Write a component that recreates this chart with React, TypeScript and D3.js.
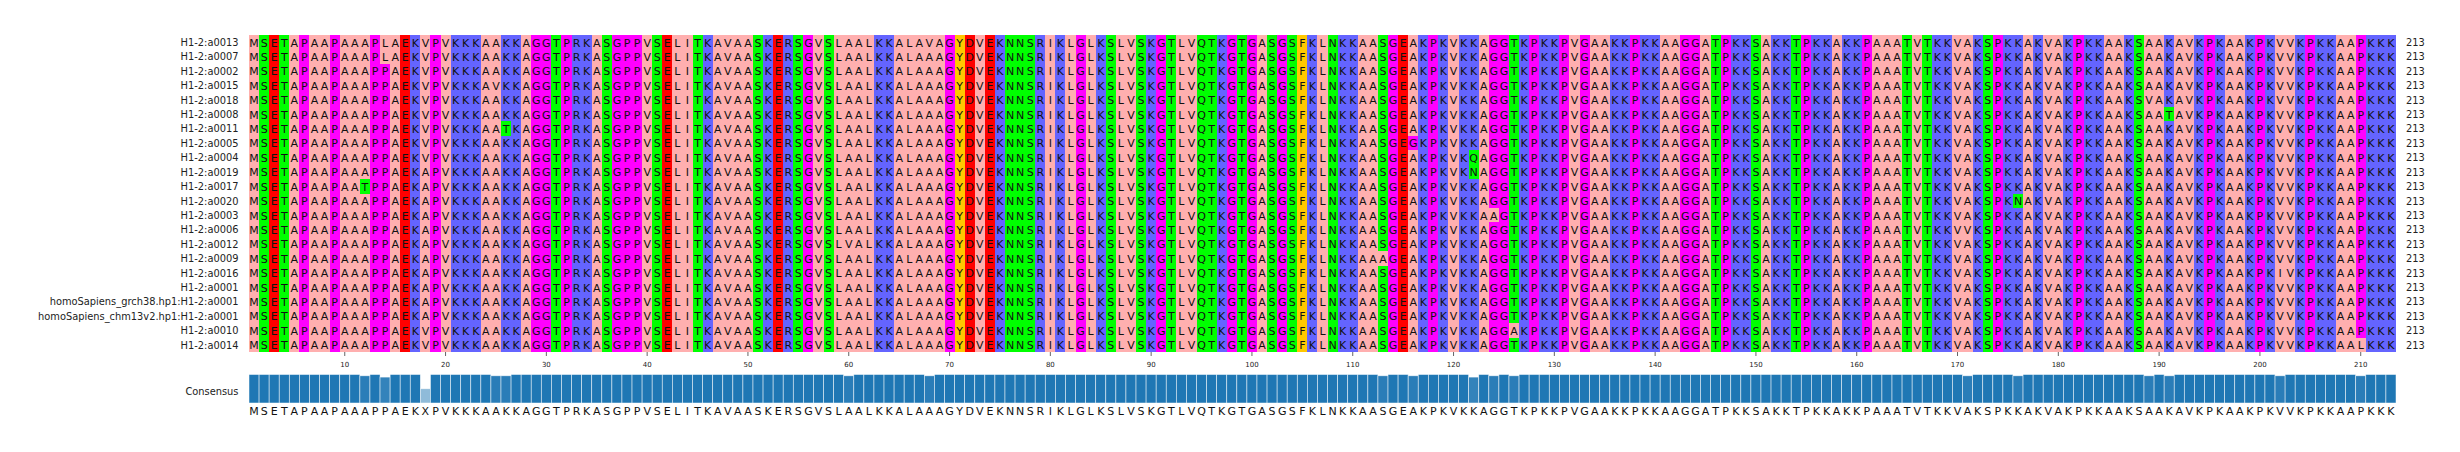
import * as d3 from "d3";

const rowLabels = [
    "H1-2:a0013", "H1-2:a0007", "H1-2:a0002", "H1-2:a0015", "H1-2:a0018", "H1-2:a0008",
    "H1-2:a0011", "H1-2:a0005", "H1-2:a0004", "H1-2:a0019", "H1-2:a0017", "H1-2:a0020",
    "H1-2:a0003", "H1-2:a0006", "H1-2:a0012", "H1-2:a0009", "H1-2:a0016", "H1-2:a0001",
    "homoSapiens_grch38.hp1:H1-2:a0001", "homoSapiens_chm13v2.hp1:H1-2:a0001",
    "H1-2:a0010", "H1-2:a0014",
];

// sequence most rows share, X at 18 is where V and A split evenly
const consensusSeq =
    "MSETAPAAPAAAPPAEKXPVKKKAAKKAGGTPRKASGPPVSELITKAVAASKERSGVSLAALKKALAAAGYDVEKNNSRI" +
    "KLGLKSLVSKGTLVQTKGTGASGSFKLNKKAASGEAKPKVKKAGGTKPKKPVGAAKKPKKAAGGATPKKSAKKTPKKAKK" +
    "PAAATVTKKVAKSPKKAKVAKPKKAAKSAAKAVKPKAAKPKVVKPKKAAPKKK";

// rows carrying V at position 18, the others carry A
const valineRows = ["H1-2:a0013", "H1-2:a0007", "H1-2:a0002", "H1-2:a0015", "H1-2:a0018", "H1-2:a0008", "H1-2:a0011", "H1-2:a0005", "H1-2:a0004", "H1-2:a0010", "H1-2:a0014"];

// [row, 1-based position, residue]
const substitutions: [string, number, string][] = [
    ["H1-2:a0013", 14, "L"],
    ["H1-2:a0013", 68, "V"],
    ["H1-2:a0007", 14, "L"],
    ["H1-2:a0015", 25, "V"],
    ["H1-2:a0018", 189, "V"],
    ["H1-2:a0008", 191, "T"],
    ["H1-2:a0011", 26, "T"],
    ["H1-2:a0005", 116, "G"],
    ["H1-2:a0004", 122, "Q"],
    ["H1-2:a0019", 122, "N"],
    ["H1-2:a0017", 12, "T"],
    ["H1-2:a0020", 176, "N"],
    ["H1-2:a0003", 124, "A"],
    ["H1-2:a0006", 171, "V"],
    ["H1-2:a0012", 60, "V"],
    ["H1-2:a0009", 113, "A"],
    ["H1-2:a0016", 202, "I"],
    ["H1-2:a0010", 126, "A"],
    ["H1-2:a0014", 210, "L"],
];

const rowLengths = rowLabels.map(() => 213);
const tickPositions = [10, 20, 30, 40, 50, 60, 70, 80, 90, 100, 110, 120, 130, 140, 150, 160, 170, 180, 190, 200, 210];

const residueColors: Record<string, string> = {
    A: "#ffafaf", I: "#ffafaf", L: "#ffafaf", M: "#ffafaf", V: "#ffafaf",
    F: "#ffc800", Y: "#ffc800",
    K: "#6464ff", R: "#6464ff",
    D: "#ff0000", E: "#ff0000",
    N: "#00ff00", Q: "#00ff00", S: "#00ff00", T: "#00ff00",
    G: "#ff00ff", P: "#ff00ff",
};

const sequences = rowLabels.map((label) => {
    const residues = consensusSeq.split("");
    residues[17] = valineRows.includes(label) ? "V" : "A";
    substitutions
        .filter((s) => s[0] === label)
        .forEach((s) => {
            residues[s[1] - 1] = s[2];
        });
    return residues;
});

const positions = d3.range(1, consensusSeq.length + 1);

// share of rows agreeing with the most common residue in each column
const conservation = positions.map((pos) => {
    const counts = d3.rollup(sequences, (v) => v.length, (s) => s[pos - 1]);
    return (d3.max(counts.values()) ?? 0) / sequences.length;
});

export default function App() {
    const width = 2460;
    const height = 452;
    const fontFamily = "'DejaVu Sans', sans-serif";

    const xScale = d3.scaleBand<number>().domain(positions).range([249, 2396]);
    const yScale = d3.scaleBand<string>().domain(rowLabels).range([35, 352]);
    const barScale = d3.scaleLinear().domain([0, 1]).range([403, 374.5]);

    const cell = xScale.bandwidth();
    const center = (pos: number) => (xScale(pos) ?? 0) + cell / 2;

    return (
        <svg
            width={width}
            height={height}
            viewBox={`0 0 ${width} ${height}`}
            style={{ position: "absolute", left: 0, top: 0, background: "#fff" }}
            fontFamily={fontFamily}
        >
            {/* residue cells */}
            <g shapeRendering="crispEdges">
                {sequences.map((residues, r) =>
                    residues.map((aa, i) => (
                        <rect
                            key={`${r}-${i}`}
                            x={xScale(i + 1)}
                            y={yScale(rowLabels[r])}
                            width={cell}
                            height={yScale.bandwidth()}
                            fill={residueColors[aa] ?? "#fff"}
                        />
                    ))
                )}
            </g>

            {/* residue letters */}
            <g fontSize="11" textAnchor="middle" fill="#111">
                {sequences.map((residues, r) =>
                    residues.map((aa, i) => (
                        <text
                            key={`${r}-${i}`}
                            x={center(i + 1)}
                            y={(yScale(rowLabels[r]) ?? 0) + yScale.bandwidth() / 2 + 4.4}
                        >
                            {aa}
                        </text>
                    ))
                )}
            </g>

            {/* row labels and lengths */}
            <g fontSize="9.85" fill="#222">
                {rowLabels.map((label, r) => (
                    <g key={label}>
                        <text
                            x={238.5}
                            y={(yScale(label) ?? 0) + yScale.bandwidth() / 2 + 3.8}
                            textAnchor="end"
                        >
                            {label}
                        </text>
                        <text
                            x={2406}
                            y={(yScale(label) ?? 0) + yScale.bandwidth() / 2 + 3.8}
                        >
                            {rowLengths[r]}
                        </text>
                    </g>
                ))}
                <text x={238.5} y={394.5} textAnchor="end">
                    Consensus
                </text>
            </g>

            {/* position ticks */}
            <g fontSize="7" fill="#222" textAnchor="middle">
                {tickPositions.map((tick) => (
                    <g key={tick}>
                        <line
                            x1={center(tick)}
                            x2={center(tick)}
                            y1={352}
                            y2={356}
                            stroke="#222"
                            strokeWidth={0.7}
                        />
                        <text x={center(tick)} y={366.5}>
                            {tick}
                        </text>
                    </g>
                ))}
            </g>

            {/* consensus bars */}
            <g>
                {positions.map((pos, i) => (
                    <rect
                        key={pos}
                        x={xScale(pos)}
                        y={barScale(conservation[i])}
                        width={cell}
                        height={barScale(0) - barScale(conservation[i])}
                        fill="#1f77b4"
                        fillOpacity={conservation[i]}
                        stroke="#fff"
                        strokeOpacity={0.7}
                        strokeWidth={0.7}
                    />
                ))}
            </g>

            {/* consensus letters */}
            <g fontSize="11" textAnchor="middle" fill="#111">
                {consensusSeq.split("").map((aa, i) => (
                    <text key={i} x={center(i + 1)} y={415}>
                        {aa}
                    </text>
                ))}
            </g>
        </svg>
    );
}
